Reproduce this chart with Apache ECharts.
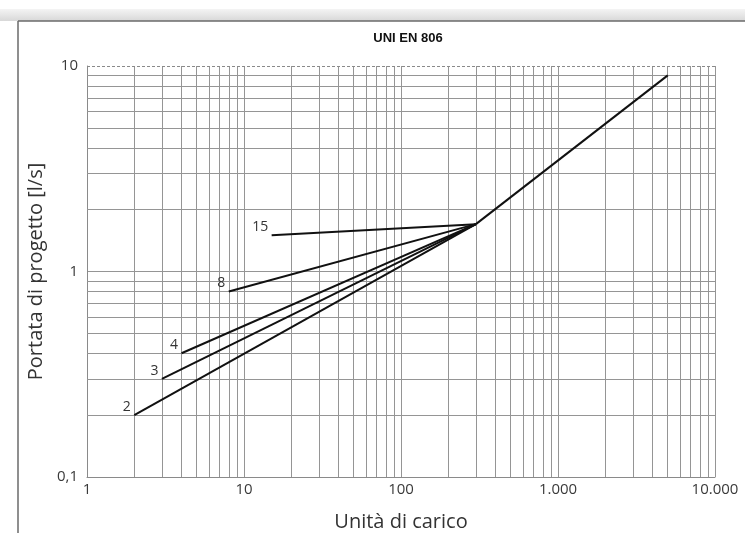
<!DOCTYPE html>
<html>
<head>
<meta charset="utf-8">
<script src="https://cdn.jsdelivr.net/npm/echarts@6/dist/echarts.min.js"></script>
<style>
html,body{margin:0;padding:0;background:#fff;}
#chart{width:745px;height:533px;}
</style>
</head>
<body>
<div id="chart"></div>
<script>
// ---- data ----
const titleText = 'UNI EN 806';
const xName = 'Unità di carico';
const yName = 'Portata di progetto [l/s]';
const curveLabels = ['2', '3', '4', '8', '15'];
const startUnits = [2, 3, 4, 8, 15];
const startFlow = [0.2, 0.3, 0.4, 0.8, 1.5];
const kneePoint = [300, 1.7];
const endPoint = [5000, 9];
const xTickLabels = {1: '1', 10: '10', 100: '100', 1000: '1.000', 10000: '10.000'};
const yTickLabels = {0.1: '0,1', 1: '1', 10: '10'};

// minor grid values (2..9 within each decade)
const xMinor = [];
for (let d = 1; d < 10000; d *= 10) for (let k = 2; k <= 9; k++) xMinor.push(k * d);
const yMinor = [];
for (let d = 0.1; d < 9; d *= 10) for (let k = 2; k <= 9; k++) yMinor.push(+(k * d).toPrecision(3));

const gridColor = '#959595';
const font = 'Open Sans';

const chart = echarts.init(document.getElementById('chart'), null, {renderer: 'canvas'});

const series = [];
// grid helper series
series.push({
  type: 'line', data: [], silent: true, z: 1,
  markLine: {
    silent: true, symbol: 'none', animation: false,
    label: {show: false},
    lineStyle: {color: gridColor, width: 1, type: 'solid'},
    data: xMinor.map(v => ({xAxis: v}))
      .concat(yMinor.map(v => ({yAxis: v})))
      .concat([{yAxis: 10, lineStyle: {type: [3, 2], color: '#8a8a8a'}}])
  }
});
startUnits.forEach((u, i) => {
  series.push({
    type: 'line', z: 5, animation: false,
    symbol: 'circle', symbolSize: 1, showSymbol: true,
    itemStyle: {color: 'rgba(0,0,0,0)'},
    lineStyle: {color: '#111', width: 2},
    data: [
      {value: [u, startFlow[i]], label: {show: true, formatter: curveLabels[i], position: 'left', distance: 3, offset: [0, -8], color: '#333', fontSize: 14, fontFamily: font}},
      {value: kneePoint}
    ]
  });
});
series.push({
  type: 'line', z: 5, animation: false, symbol: 'none',
  lineStyle: {color: '#111', width: 2},
  data: [kneePoint, endPoint]
});

chart.setOption({
  animation: false,
  backgroundColor: '#fff',
  title: {
    text: titleText, left: 403, top: 27, textAlign: 'center',
    textStyle: {fontFamily: 'Liberation Sans', fontWeight: 'bold', fontSize: 13, color: '#111'}
  },
  graphic: [
    {type: 'rect', shape: {x: 0, y: 9, width: 745, height: 12}, silent: true,
     style: {fill: new echarts.graphic.LinearGradient(0, 0, 0, 1, [{offset: 0, color: '#f4f4f4'}, {offset: 1, color: '#d8d8d8'}])}},
    {type: 'line', shape: {x1: 18, y1: 21, x2: 745, y2: 21}, silent: true, style: {stroke: '#6a6a6a', lineWidth: 1.5}},
    {type: 'line', shape: {x1: 18, y1: 21, x2: 18, y2: 533}, silent: true, style: {stroke: '#6a6a6a', lineWidth: 1.5}}
  ],
  grid: {left: 87, right: 30, top: 66, bottom: 56, containLabel: false, outerBoundsMode: 'none'},
  xAxis: {
    type: 'log', logBase: 10, min: 1, max: 10000,
    name: xName, nameLocation: 'middle', nameGap: 35,
    nameTextStyle: {fontFamily: font, fontSize: 20, color: '#333'},
    axisLine: {show: true, lineStyle: {color: '#8a8a8a', width: 1}},
    axisTick: {show: false},
    axisLabel: {fontFamily: font, fontSize: 15, color: '#3a3a3a', margin: 5,
      formatter: v => xTickLabels[Math.round(v)] || ''},
    splitLine: {show: true, lineStyle: {color: gridColor, width: 1}}
  },
  yAxis: {
    type: 'log', logBase: 10, min: 0.1, max: 10,
    name: yName, nameLocation: 'middle', nameGap: 36, nameRotate: 90,
    nameTextStyle: {fontFamily: font, fontSize: 20, color: '#333'},
    axisLine: {show: true, lineStyle: {color: '#8a8a8a', width: 1}},
    axisTick: {show: false},
    axisLabel: {fontFamily: font, fontSize: 15, color: '#3a3a3a', margin: 9, verticalAlign: 'middle',
      padding: [0, 0, 6, 0],
      formatter: v => yTickLabels[+v.toPrecision(3)] || ''},
    splitLine: {show: true, showMaxLine: false, lineStyle: {color: gridColor, width: 1}}
  },
  series: series
});
</script>
</body>
</html>
